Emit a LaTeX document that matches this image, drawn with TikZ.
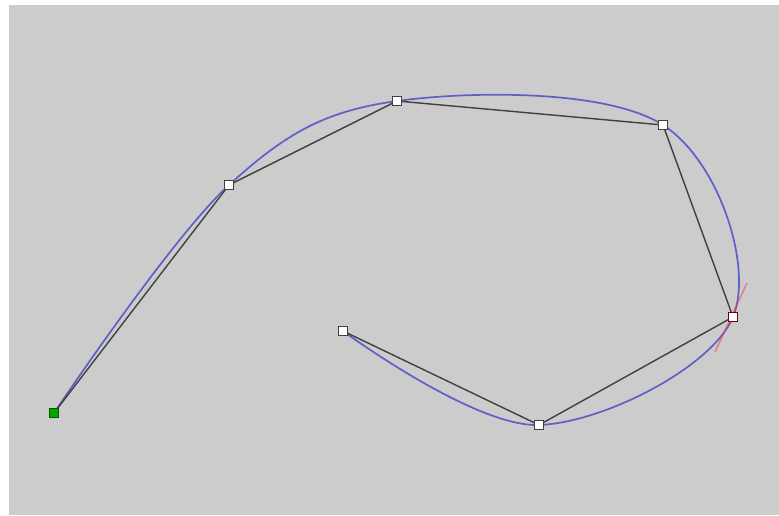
\documentclass[tikz,border=0pt]{standalone}
\begin{document}
\begin{tikzpicture}[x=1pt,y=-1pt,
  pt/.style={draw=black!75,fill=white,minimum size=8.5pt,inner sep=0pt,line width=1.1pt},
  ptg/.style={draw=green!35!black,fill=green!65!black,minimum size=8.5pt,inner sep=0pt,line width=1.1pt},
  poly/.style={draw=black!75,line width=1.4pt},
  curve/.style={line width=1.7pt}]
\useasboundingbox (0,0) rectangle (779,515);
\fill[white] (0,0) rectangle (779,515);
\fill[gray!40] (9,5) rectangle (779,515);
\coordinate (c0) at (54,413);
\coordinate (c1) at (229,185);
\coordinate (c2) at (397,101);
\coordinate (c3) at (663,125);
\coordinate (c4) at (733,317);
\coordinate (c5) at (539,425);
\coordinate (c6) at (343,331);
\draw[curve,color={rgb,255:red,95;green,95;blue,200}] plot[smooth,tension=0.6] coordinates {(54,413) (229,185) (397,101) (663,125) (733,317) (539,425) (343,331)};
\coordinate (t1) at (747,283);
\coordinate (t2) at (715,352);
\draw[red!80,opacity=0.5,line width=1.5pt] (t1) -- (t2);
\draw[poly] (c0) -- (c1) -- (c2) -- (c3) -- (c4) -- (c5) -- (c6);
\node[ptg] (n0) at (c0) {};
\node[pt] (n1) at (c1) {};
\node[pt] (n2) at (c2) {};
\node[pt] (n3) at (c3) {};
\node[pt,draw=red!45!black] (n4) at (c4) {};
\node[pt] (n5) at (c5) {};
\node[pt] (n6) at (c6) {};
\end{tikzpicture}
\end{document}
